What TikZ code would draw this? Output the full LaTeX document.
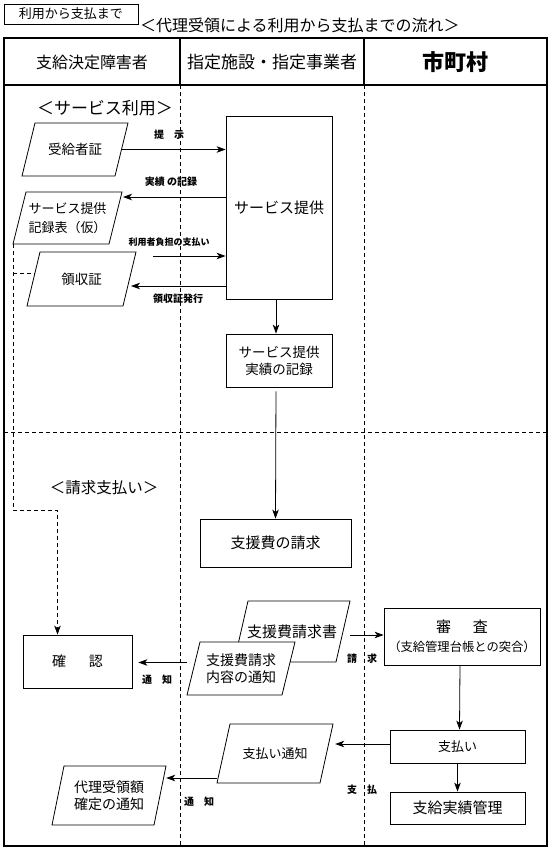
\documentclass[tikz,border=0pt]{standalone}
\usepackage{fontspec}
\setmainfont{Noto Sans CJK JP}
\usetikzlibrary{arrows.meta,calc}
\newcommand\fsz[2]{\fontsize{#1pt}{#2pt}\selectfont}
% parallelogram: name, cx, cy, w, h, slant, font, text
\newcommand\pgm[8]{%
  \draw[box,fill=white] (#2-#4/2,#3+#5/2) -- (#2-#4/2+#6,#3-#5/2) -- (#2+#4/2,#3-#5/2) -- (#2+#4/2-#6,#3+#5/2) -- cycle;
  \node[txt,minimum width=#4pt,minimum height=#5pt,font=#7] (#1) at (#2,#3) {#8};
  \coordinate (#1-e) at (#2+#4/2-#6/2,#3);
  \coordinate (#1-w) at (#2-#4/2+#6/2,#3);
  \coordinate (#1-bl) at (#2-#4/2,#3+#5/2);
}
\begin{document}
\begin{tikzpicture}[x=1pt,y=-1pt,
  box/.style={draw,line width=0.8pt},
  rbox/.style={draw,line width=0.8pt,inner sep=0pt,align=center},
  txt/.style={inner sep=0pt,align=center},
  lbl/.style={inner sep=0pt,font=\fsz{10}{12}\bfseries},
  arr/.style={line width=0.8pt,-{Stealth[length=9pt,width=6.5pt,inset=2.5pt]}},
  dline/.style={line width=0.8pt,dash pattern=on 4pt off 3pt},
  frame/.style={line width=1.2pt}]
\useasboundingbox (0,0) rectangle (553,852);

% title
\node[rbox,minimum width=134pt,minimum height=20pt,font=\fsz{13}{15}] (tbox) at (71,14) {利用から支払まで};
\node[txt,anchor=west,font=\fsz{16}{18}] (title) at (140,25) {＜代理受領による利用から支払までの流れ＞};

% table
\draw[frame] (4,38) rectangle (547,846);
\draw[frame] (4,85) -- (547,85);
\draw[frame] (180,38) -- (180,85);
\draw[frame] (364,38) -- (364,85);
\draw[dline] (180,85) -- (180,846);
\draw[dline] (364,85) -- (364,846);
\draw[dline] (4,432) -- (547,432);

\node[txt,font=\fsz{16}{18}] (h1) at (92,62) {支給決定障害者};
\node[txt,font=\fsz{17}{19}] (h2) at (272,62) {指定施設・指定事業者};
\node[txt,font=\fsz{22}{24}\bfseries] (h3) at (455,62) {市町村};

\node[txt,font=\fsz{17}{19}] (sec1) at (105,108) {＜サービス利用＞};
\node[txt,font=\fsz{15.5}{18}] (sec2) at (104,488) {＜請求支払い＞};

% boxes
\node[rbox,minimum width=106pt,minimum height=183pt,font=\fsz{15}{18}] (b_svc) at (279,207.5) {サービス提供};
\node[rbox,minimum width=106pt,minimum height=53pt,font=\fsz{13.5}{17}] (b_jisseki) at (279,360.5) {サービス提供\\実績の記録};
\node[rbox,minimum width=151pt,minimum height=48pt,font=\fsz{15}{18}] (b_seikyu) at (275.5,543) {支援費の請求};
\node[rbox,minimum width=109pt,minimum height=53pt,font=\fsz{14}{16}] (b_kakunin) at (77.5,661.5) {確\hspace{23pt}認};
\node[rbox,minimum width=156pt,minimum height=57pt,font=\fsz{12.3}{19}] (b_shinsa) at (462,636.5) {{\fsz{15}{19}審\hspace{22pt}査}\\（支給管理台帳との突合）};
\node[rbox,minimum width=135pt,minimum height=33pt,font=\fsz{13}{16}] (b_shiharai) at (457.5,746.5) {支払い};
\node[rbox,minimum width=135pt,minimum height=32pt,font=\fsz{15}{17}] (b_kanri) at (457.5,808) {支給実績管理};

% parallelograms
\pgm{p_jukyu}{75}{149.5}{106}{53}{13}{\fsz{13.5}{16}}{受給者証}
\pgm{p_kiroku}{67.5}{218}{109}{52}{13}{\fsz{13}{19}}{サービス提供\\記録表（仮）}
\pgm{p_ryoshu}{81.5}{279}{109}{54}{13}{\fsz{13.5}{16}}{領収証}
\pgm{p_shoseikyu}{292}{631.5}{116}{61}{14}{\fsz{15}{17}}{支援費請求書}
\pgm{p_naiyo}{241}{668.5}{108}{53}{13}{\fsz{14}{17}}{支援費請求\\内容の通知}
\pgm{p_tsuchi}{275}{753.5}{116}{59}{13}{\fsz{13}{16}}{支払い通知}
\pgm{p_dairi}{109}{795.5}{114}{59}{12}{\fsz{14}{17.5}}{代理受領額\\確定の通知}

% connectors, service use
\draw[arr] (p_jukyu-e) -- (p_jukyu-e -| b_svc.west);
\node[lbl] (l1) at (169,135) {提　示};

\coordinate (k_in) at (123,197);
\draw[arr] (k_in -| b_svc.west) -- (k_in);
\node[lbl] (l2) at (171,182) {実績 の記録};

\coordinate (pay_s) at (153,256);
\draw[arr] (pay_s) -- (pay_s -| b_svc.west);
\node[lbl,font=\fsz{9}{11}\bfseries] (l3) at (169,242) {利用者負担の支払い};

\coordinate (r_in) at (131,286);
\draw[arr] (r_in -| b_svc.west) -- (r_in);
\node[lbl] (l4) at (178,299) {領収証発行};

\draw[arr] ([xshift=-3pt]b_svc.south) -- ([xshift=-3pt]b_jisseki.north);
\draw[arr,shorten <=4pt] ([xshift=-3pt]b_jisseki.south) -- (b_seikyu.north);

% dashed link to confirmation
\coordinate (dturn) at (57.5,510);
\draw[dline,arr] (p_kiroku-bl) |- (dturn) -- (dturn |- b_kakunin.north);
\coordinate (ryo_l) at (35,273);
\draw[dline] (ryo_l -| p_kiroku-bl) -- (ryo_l);

% billing and payment
\coordinate (sq_out) at ([yshift=-3.5pt]p_shoseikyu.east);
\draw[arr] (sq_out) -- (sq_out -| b_shinsa.west);
\node[lbl] (l8) at (362,659) {請　求};

\coordinate (nt_out) at ([yshift=6pt]p_naiyo.west);
\draw[arr,shorten >=6pt] (nt_out) -- (nt_out -| b_kakunin.east);
\node[lbl] (l9) at (157,680) {通　知};

\draw[arr] ([xshift=-2pt]b_shinsa.south) -- ([xshift=2pt]b_shiharai.north);
\draw[arr] (b_shiharai.south) -- (b_kanri.north);

\coordinate (sh_out) at ([yshift=2.5pt]b_shiharai.west);
\draw[arr,shorten >=2pt] (sh_out) -- (sh_out -| p_tsuchi.east);
\node[lbl] (l12) at (362,790) {支　払};

\coordinate (ts_out) at ([yshift=-24.5pt]p_tsuchi.west);
\draw[arr] (ts_out) -- (ts_out -| p_dairi.east);
\node[lbl] (l13) at (199,802) {通　知};
\end{tikzpicture}
\end{document}
